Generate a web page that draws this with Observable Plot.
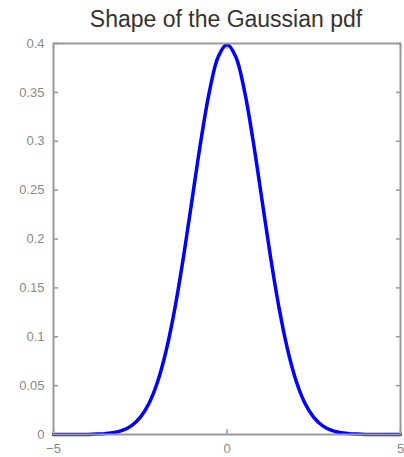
<!DOCTYPE html>
<html>
<head>
<meta charset="utf-8">
<script src="https://cdn.jsdelivr.net/npm/d3@7"></script>
<script src="https://cdn.jsdelivr.net/npm/@observablehq/plot@0.6"></script>
<style>
  html, body { margin: 0; padding: 0; background: #fff; }
  #title { height: 35px; line-height: 38px; text-align: center; font-family: "Liberation Sans", Arial, sans-serif; font-size: 23px; color: #333; padding-left: 48px; box-sizing: border-box; width: 404px; white-space: nowrap; }
</style>
</head>
<body>
<div id="title">Shape of the Gaussian pdf</div>
<div id="chart"></div>
<script>
const xs = [-5, -4.75, -4.5, -4.25, -4, -3.75, -3.5, -3.25, -3, -2.75, -2.5, -2.25, -2, -1.75, -1.5, -1.25, -1, -0.75, -0.5, -0.25, 0,
            0.25, 0.5, 0.75, 1, 1.25, 1.5, 1.75, 2, 2.25, 2.5, 2.75, 3, 3.25, 3.5, 3.75, 4, 4.25, 4.5, 4.75, 5];
const ys = [0, 0, 0, 0, 0.0001, 0.0004, 0.0009, 0.0020, 0.0044, 0.0091, 0.0175, 0.0317, 0.0540, 0.0863, 0.1295, 0.1826, 0.2420, 0.3011, 0.3521, 0.3867, 0.3989,
            0.3867, 0.3521, 0.3011, 0.2420, 0.1826, 0.1295, 0.0863, 0.0540, 0.0317, 0.0175, 0.0091, 0.0044, 0.0020, 0.0009, 0.0004, 0.0001, 0, 0, 0, 0];
const xTicks = [-5, 0, 5];
const yTicks = [0, 0.05, 0.1, 0.15, 0.2, 0.25, 0.3, 0.35, 0.4];
const yTickLabels = ["0", "0.05", "0.1", "0.15", "0.2", "0.25", "0.3", "0.35", "0.4"];

const data = xs.map((x, i) => ({x, y: ys[i]}));
const gray = "#999";
const labelGray = "#8a8a8a";

const chart = Plot.plot({
  width: 404,
  height: 422,
  marginTop: 8,
  marginBottom: 23,
  marginLeft: 53,
  marginRight: 4,
  style: {fontFamily: "'Liberation Sans', Arial, sans-serif", fontSize: "13px", color: labelGray, background: "#fff"},
  x: {domain: [-5, 5]},
  y: {domain: [0, 0.4]},
  marks: [
    Plot.axisY(yTicks, {anchor: "left", tickSize: 5, dx: 5, tickPadding: 9, tickFormat: (d, i) => yTickLabels[i], label: null, stroke: gray, fill: labelGray, strokeWidth: 1.5}),
    Plot.axisY(yTicks, {anchor: "right", tickSize: 5, dx: -5, tickFormat: () => "", label: null, stroke: gray, strokeWidth: 1.5}),
    Plot.axisX(xTicks, {anchor: "bottom", tickSize: 5, dy: -5, tickPadding: 9, label: null, stroke: gray, fill: labelGray, strokeWidth: 1.5}),
    Plot.axisX(xTicks, {anchor: "top", tickSize: 5, dy: 5, tickFormat: () => "", label: null, stroke: gray, strokeWidth: 1.5}),
    Plot.line(data, {x: "x", y: "y", stroke: "#0000ff", strokeWidth: 3.5, curve: "catmull-rom"}),
    Plot.frame({stroke: gray, strokeWidth: 2})
  ]
});
document.getElementById("chart").appendChild(chart);
</script>
</body>
</html>
